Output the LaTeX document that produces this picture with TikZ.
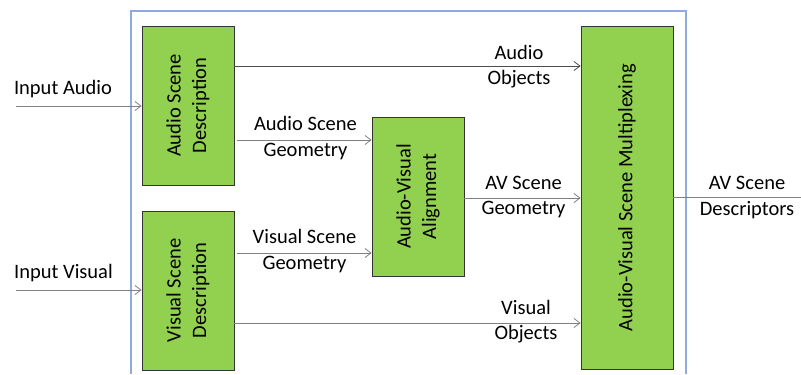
\documentclass[tikz,border=0pt]{standalone}
\usepackage{fontspec}
\setmainfont{Carlito}
\usetikzlibrary{arrows.meta}
\definecolor{blockgreen}{HTML}{92D050}
\definecolor{framblue}{HTML}{8FAADC}
\definecolor{wiregray}{HTML}{808080}
\tikzset{
  block/.style={draw=black!80, fill=blockgreen, line width=0.8bp, inner sep=0pt},
  blocktext/.style={rotate=90, align=center, inner sep=0pt, font=\fontsize{20.5bp}{25.5bp}\selectfont},
  lbl/.style={align=center, inner sep=0pt, font=\fontsize{20.5bp}{25.5bp}\selectfont},
  wire/.style={draw=wiregray, line width=0.8bp, -{Straight Barb[length=6bp, width=9bp, line width=0.8bp]}},
  plainwire/.style={draw=wiregray, line width=0.8bp},
}
\begin{document}
\begin{tikzpicture}[x=1bp, y=-1bp]
\useasboundingbox (0,0) rectangle (801,374);
% outer frame, open at the bottom
\draw[framblue, line width=1.2bp] (131,374) -- (131,11) -- (686,11) -- (686,374);

% processing blocks
\node[block, minimum width=92bp, minimum height=159bp] (asd) at (188,105.5) {};
\node[blocktext] (asdt) at (asd) {Audio Scene\\Description};
\node[block, minimum width=92bp, minimum height=159bp] (vsd) at (188,290.5) {};
\node[blocktext] (vsdt) at (vsd) {Visual Scene\\Description};
\node[block, minimum width=92bp, minimum height=159bp] (ava) at (418,196.5) {};
\node[blocktext] (avat) at (ava) {Audio-Visual\\Alignment};
\node[block, minimum width=92bp, minimum height=343bp] (mux) at (627,197.5) {};
\node[blocktext] (muxt) at (mux) {Audio-Visual Scene Multiplexing};

% external inputs and output
\coordinate (ina) at (16,106);
\coordinate (inv) at (16,290);
\coordinate (outd) at (801,197);
\node[lbl] (inal) at (63,89) {Input Audio};
\node[lbl] (invl) at (63.5,273) {Input Visual};
\draw[wire] (ina) -- (asd.west |- ina);
\draw[wire] (inv) -- (vsd.west |- inv);
\draw[plainwire] (mux.east |- outd) -- (outd);
\node[lbl] (outl) at (747,197.5) {AV Scene\\Descriptors};

% internal connections
\coordinate (yao) at (0,66);
\coordinate (yag) at (0,140);
\coordinate (yvg) at (0,253);
\coordinate (yvo) at (0,323);
\coordinate (yavg) at (0,198);
\draw[wire, draw=black!70] (asd.east |- yao) -- (mux.west |- yao);
\draw[wire] ([xshift=3bp]asd.east |- yag) -- (ava.west |- yag);
\draw[wire] ([xshift=3bp]vsd.east |- yvg) -- (ava.west |- yvg);
\draw[wire] (vsd.east |- yvo) -- (mux.west |- yvo);
\draw[wire] (ava.east |- yavg) -- (mux.west |- yavg);

\node[lbl] (aol) at (519,66.5) {Audio\\Objects};
\node[lbl] (agl) at (305.5,138) {Audio Scene\\Geometry};
\node[lbl] (vgl) at (304.5,251) {Visual Scene\\Geometry};
\node[lbl] (vol) at (526,321.5) {Visual\\Objects};
\node[lbl] (avgl) at (523.5,197) {AV Scene\\Geometry};
\end{tikzpicture}
\end{document}
